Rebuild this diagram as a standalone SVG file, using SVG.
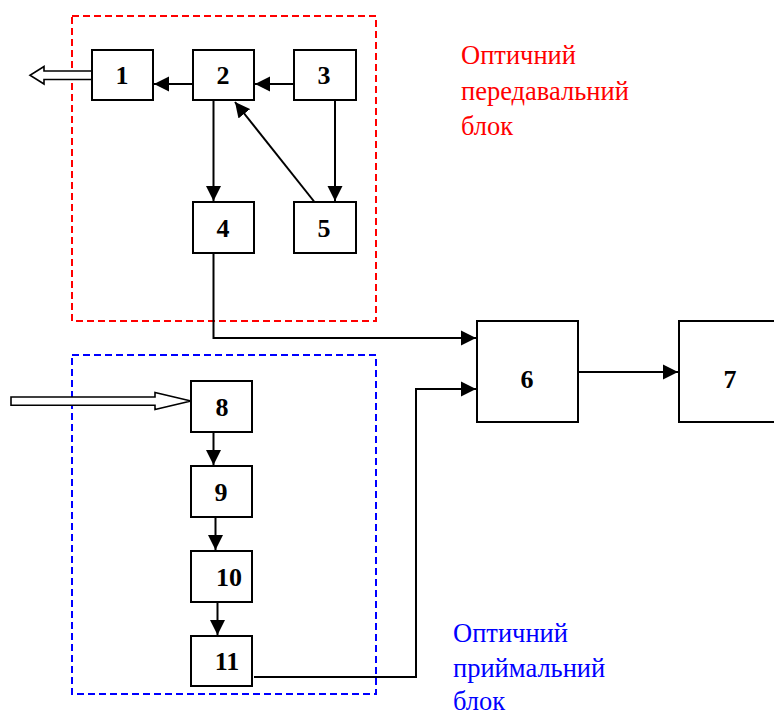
<svg xmlns="http://www.w3.org/2000/svg" width="774" height="715" viewBox="0 0 774 715">
<style>
.box{fill:#fff;stroke:#000;stroke-width:2}
.lbl{font-family:"Liberation Serif","Times New Roman",serif;font-weight:bold;font-size:26px;text-anchor:middle;fill:#000}
.cap{font-family:"Liberation Serif","Times New Roman",serif;font-size:26.5px}
.ln{fill:none;stroke:#000;stroke-width:2}
.hol{fill:#fff;stroke:#000;stroke-width:1.6}
</style>
<defs>
<marker id="ah" markerUnits="userSpaceOnUse" markerWidth="16" markerHeight="16" viewBox="0 0 16 16" refX="15" refY="8" orient="auto">
<path d="M0,0.5 L15,8 L0,15.5 Z" fill="#000"/>
</marker>
</defs>
<rect id="tx-group" x="72" y="16" width="304" height="305" fill="none" stroke="#f00" stroke-width="2" stroke-dasharray="7 4"/>
<rect id="rx-group" x="72" y="355" width="304" height="339" fill="none" stroke="#00f" stroke-width="2" stroke-dasharray="7 4"/>
<g id="connectors">
<line class="ln" x1="193" y1="84" x2="154" y2="84" marker-end="url(#ah)"/>
<line class="ln" x1="294" y1="84" x2="255" y2="84" marker-end="url(#ah)"/>
<line class="ln" x1="213.5" y1="100" x2="213.5" y2="201" marker-end="url(#ah)"/>
<line class="ln" x1="335" y1="100" x2="335" y2="201" marker-end="url(#ah)"/>
<line class="ln" x1="314.5" y1="202" x2="235" y2="102" marker-end="url(#ah)"/>
<polyline class="ln" points="213.5,253 213.5,338 476,338" marker-end="url(#ah)"/>
<polyline class="ln" points="254,677 416,677 416,389 476,389" marker-end="url(#ah)"/>
<line class="ln" x1="578" y1="372" x2="678" y2="372" marker-end="url(#ah)"/>
<line class="ln" x1="213.5" y1="432" x2="213.5" y2="465" marker-end="url(#ah)"/>
<line class="ln" x1="215.5" y1="517" x2="215.5" y2="550" marker-end="url(#ah)"/>
<line class="ln" x1="217.5" y1="602" x2="217.5" y2="635" marker-end="url(#ah)"/>
<path class="hol" d="M92,71 L44,71 L44,66.5 L30,75.3 L44,84 L44,79.5 L92,79.5"/>
<path class="hol" d="M11,397 L155,397 L155,392.5 L191,401 L155,409.5 L155,405.3 L11,405.3 Z"/>
</g>
<g id="n1"><rect class="box" x="92" y="50" width="61" height="50"/><text class="lbl" x="122" y="84">1</text></g>
<g id="n2"><rect class="box" x="193" y="50" width="61" height="50"/><text class="lbl" x="223" y="84">2</text></g>
<g id="n3"><rect class="box" x="294" y="50" width="62" height="50"/><text class="lbl" x="324" y="84">3</text></g>
<g id="n4"><rect class="box" x="193" y="202" width="61" height="51"/><text class="lbl" x="223" y="237">4</text></g>
<g id="n5"><rect class="box" x="294" y="202" width="62" height="51"/><text class="lbl" x="324" y="237">5</text></g>
<g id="n6"><rect class="box" x="477" y="321" width="101" height="101"/><text class="lbl" x="527" y="388">6</text></g>
<g id="n7"><rect class="box" x="679" y="321" width="100" height="101"/><text class="lbl" x="730" y="388">7</text></g>
<g id="n8"><rect class="box" x="191" y="381" width="61" height="51"/><text class="lbl" x="222" y="416">8</text></g>
<g id="n9"><rect class="box" x="191" y="466" width="61" height="51"/><text class="lbl" x="221" y="501">9</text></g>
<g id="n10"><rect class="box" x="191" y="551" width="61" height="51"/><text class="lbl" x="229" y="586">10</text></g>
<g id="n11"><rect class="box" x="191" y="636" width="61" height="50"/><text class="lbl" x="227" y="670">11</text></g>
<g id="tx-caption" class="cap" fill="#f00">
<text x="461" y="64">Оптичний</text>
<text x="461" y="100">передавальний</text>
<text x="461" y="135">блок</text>
</g>
<g id="rx-caption" class="cap" fill="#00f">
<text x="453" y="642">Оптичний</text>
<text x="453" y="677">приймальний</text>
<text x="453" y="710">блок</text>
</g>
</svg>
